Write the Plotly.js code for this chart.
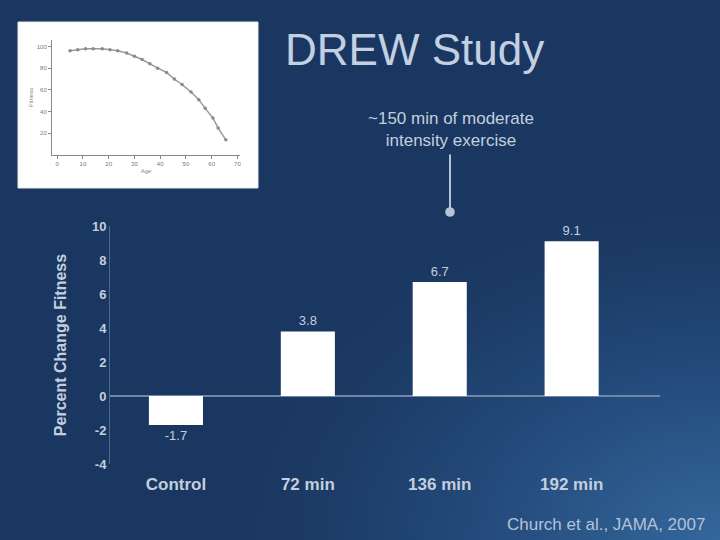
<!DOCTYPE html>
<html>
<head>
<meta charset="utf-8">
<script src="https://cdn.plot.ly/plotly-3.0.1.min.js"></script>
<style>
html,body{margin:0;padding:0;width:720px;height:540px;overflow:hidden;
background:radial-gradient(ellipse 75% 70% at 100% 100%, #34679c 0%, #234a7a 45%, #1b3963 80%, #1a3761 100%);}
#chart{width:720px;height:540px;}
</style>
</head>
<body>
<div id="chart"></div>
<script>
// Main chart data
const categories = ["Control", "72 min", "136 min", "192 min"];
const pctChange = [-1.7, 3.8, 6.7, 9.1];
const barLabels = ["-1.7", "3.8", "6.7", "9.1"];
const yTicks = [10, 8, 6, 4, 2, 0, -2, -4];

// Inset curve data
const insetX = [5, 8, 11, 14, 17.5, 20.5, 23.5, 27, 30, 33, 36, 39, 42.5, 45.5, 48.5, 52, 55, 57.5, 60.5, 62.5, 65.5];
const insetY = [96, 97, 98, 98, 98, 97, 96, 94, 91, 88, 84, 80, 76, 70, 65, 58, 51, 43, 34, 25, 14];
const insetXTicks = [0, 10, 20, 30, 40, 50, 60, 70];
const insetYTicks = [20, 40, 60, 80, 100];

const txt = "#c3cfde";
const FONT = "Arial, Liberation Sans, sans-serif";

const traces = [
  {
    type: "bar",
    x: categories.map((c, i) => i),
    y: pctChange,
    width: 0.41,
    marker: {color: "#ffffff", line: {width: 0}},
    text: barLabels,
    textposition: "outside",
    textfont: {family: FONT, size: 13, color: txt},
    cliponaxis: false,
    hoverinfo: "none",
    xaxis: "x", yaxis: "y"
  },
  {
    type: "scatter",
    mode: "lines+markers",
    x: insetX, y: insetY,
    line: {color: "#9a9a9a", width: 1.5},
    marker: {color: "#8a8a8a", size: 3.5},
    hoverinfo: "none",
    xaxis: "x2", yaxis: "y2"
  }
];

const layout = {
  width: 720, height: 540,
  margin: {l: 0, r: 0, t: 0, b: 0},
  paper_bgcolor: "rgba(0,0,0,0)",
  plot_bgcolor: "rgba(0,0,0,0)",
  showlegend: false,
  font: {family: FONT, color: txt},
  xaxis: {
    domain: [110/720, 660/720],
    range: [-0.5, 3.67],
    tickmode: "array",
    tickvals: [0, 1, 2, 3],
    ticktext: categories.map(c => "<b>" + c + "</b>"),
    tickfont: {size: 17, color: txt},
    showgrid: false, zeroline: false, showline: false,
    ticks: "",
    anchor: "free", position: 0.126
  },
  yaxis: {
    domain: [(540-464)/540, (540-226)/540],
    range: [-4, 10],
    tickmode: "array",
    tickvals: yTicks,
    ticktext: yTicks.map(v => "<b>" + v + "</b>"),
    tickfont: {size: 13, color: txt},
    showgrid: false,
    zeroline: true, zerolinecolor: "#6f87a6", zerolinewidth: 1.5,
    showline: true, linecolor: "#4e6a8f", linewidth: 1,
    ticks: "", ticklen: 0,
    title: {text: "<b>Percent Change Fitness</b>", font: {size: 16, color: txt}, standoff: 21},
    anchor: "x"
  },
  xaxis2: {
    domain: [52/720, 240/720],
    range: [-2, 71],
    tickmode: "array", tickvals: insetXTicks,
    tickfont: {size: 6, color: "#777"},
    showgrid: false, zeroline: false,
    showline: true, linecolor: "#888", linewidth: 1,
    ticks: "outside", ticklen: 3, tickcolor: "#888",
    title: {text: "Age", font: {size: 6, color: "#888"}, standoff: 2},
    anchor: "y2"
  },
  yaxis2: {
    domain: [(540-155)/540, (540-40)/540],
    range: [0, 106],
    tickmode: "array", tickvals: insetYTicks,
    tickfont: {size: 6, color: "#777"},
    showgrid: false, zeroline: false,
    showline: true, linecolor: "#888", linewidth: 1,
    ticks: "outside", ticklen: 3, tickcolor: "#888",
    title: {text: "Fitness", font: {size: 6, color: "#888"}, standoff: 2},
    anchor: "x2"
  },
  shapes: [
    {type: "rect", xref: "paper", yref: "paper", layer: "below",
     x0: 18/720, x1: 258/720, y0: (540-188)/540, y1: (540-22)/540,
     fillcolor: "#ffffff", line: {color: "#e8e8e8", width: 1}}
  ],
  annotations: [
    {text: "DREW Study", xref: "paper", yref: "paper", x: 283/720, y: (540-49)/540,
     xanchor: "left", yanchor: "middle", showarrow: false,
     font: {size: 44, color: "#c3d0e2", family: FONT}},
    {text: "~150 min of moderate<br>intensity exercise", xref: "paper", yref: "paper",
     x: 451/720, y: (540-129)/540, xanchor: "center", yanchor: "middle", showarrow: false,
     font: {size: 17, color: txt, family: FONT}},
    {text: "", xref: "paper", yref: "paper", x: 450/720, y: (540-212)/540,
     ax: 450/720, ay: (540-153)/540, axref: "paper", ayref: "paper",
     showarrow: true, arrowhead: 6, arrowsize: 1.2, arrowwidth: 2, arrowcolor: "#b7c4d6"},
    {text: "Church et al., JAMA, 2007", xref: "paper", yref: "paper", x: 707/720, y: (540-524)/540,
     xanchor: "right", yanchor: "middle", showarrow: false,
     font: {size: 17, color: "#b3c3d8", family: FONT}}
  ]
};

Plotly.newPlot("chart", traces, layout, {displayModeBar: false, staticPlot: true});
</script>
</body>
</html>
